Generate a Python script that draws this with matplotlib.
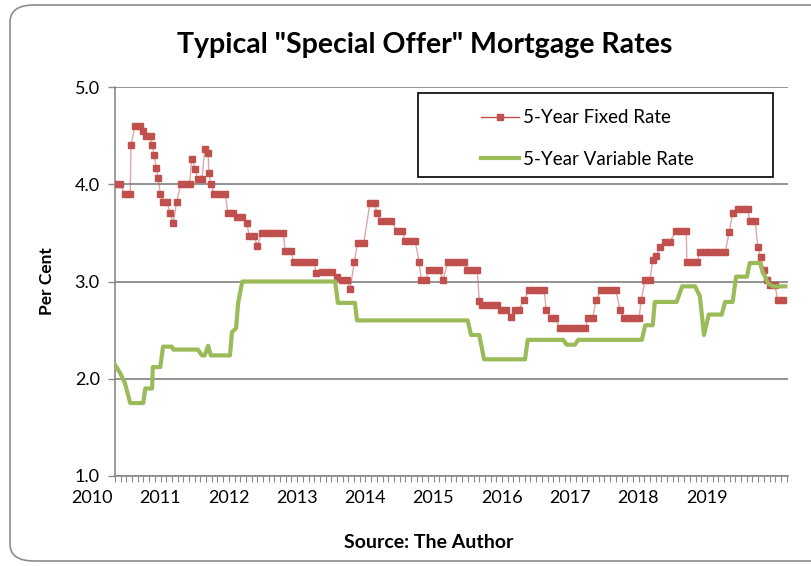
import numpy as np
import matplotlib
matplotlib.use("Agg")
import matplotlib.pyplot as plt
from matplotlib.patches import FancyBboxPatch, Rectangle
from matplotlib.lines import Line2D

# 5-year fixed rate (decimal year, per cent)
fixed_t = [
    2010.34, 2010.41, 2010.48, 2010.56, 2010.57, 2010.63, 2010.70, 2010.75, 2010.79, 2010.86,
    2010.88, 2010.91, 2010.94, 2010.97, 2011.00, 2011.04, 2011.10, 2011.14, 2011.19, 2011.24,
    2011.30, 2011.38, 2011.43, 2011.46, 2011.51, 2011.55, 2011.61, 2011.65, 2011.70, 2011.71,
    2011.74, 2011.79, 2011.86, 2011.95, 2011.99, 2012.06, 2012.12, 2012.20, 2012.27, 2012.30,
    2012.37, 2012.42, 2012.49, 2012.56, 2012.64, 2012.71, 2012.80, 2012.83, 2012.91, 2012.96,
    2013.03, 2013.10, 2013.18, 2013.25, 2013.28, 2013.37, 2013.44, 2013.51, 2013.59, 2013.66,
    2013.73, 2013.78, 2013.84, 2013.89, 2013.98, 2014.07, 2014.14, 2014.17, 2014.23, 2014.30,
    2014.38, 2014.47, 2014.54, 2014.58, 2014.66, 2014.73, 2014.79, 2014.82, 2014.89, 2014.93,
    2015.01, 2015.08, 2015.14, 2015.21, 2015.29, 2015.36, 2015.45, 2015.49, 2015.56, 2015.64,
    2015.67, 2015.71, 2015.78, 2015.86, 2015.93, 2015.99, 2016.06, 2016.13, 2016.19, 2016.25,
    2016.32, 2016.40, 2016.47, 2016.54, 2016.62, 2016.65, 2016.72, 2016.78, 2016.85, 2016.92,
    2017.00, 2017.07, 2017.14, 2017.22, 2017.26, 2017.33, 2017.38, 2017.45, 2017.52, 2017.60,
    2017.67, 2017.73, 2017.79, 2017.86, 2017.93, 2018.01, 2018.04, 2018.10, 2018.17, 2018.21,
    2018.26, 2018.32, 2018.39, 2018.46, 2018.55, 2018.62, 2018.70, 2018.71, 2018.78, 2018.86,
    2018.90, 2018.97, 2019.05, 2019.12, 2019.19, 2019.27, 2019.33, 2019.38, 2019.46, 2019.53,
    2019.60, 2019.63, 2019.71, 2019.75, 2019.79, 2019.84, 2019.88, 2019.93, 2020.00, 2020.04,
    2020.12,
]
fixed_rate = [
    4.00, 4.00, 3.90, 3.90, 4.40, 4.60, 4.60, 4.55, 4.50, 4.50,
    4.40, 4.30, 4.17, 4.06, 3.90, 3.82, 3.82, 3.70, 3.60, 3.82,
    4.00, 4.00, 4.00, 4.26, 4.16, 4.05, 4.05, 4.36, 4.32, 4.12,
    4.00, 3.90, 3.90, 3.90, 3.70, 3.70, 3.66, 3.66, 3.60, 3.47,
    3.47, 3.37, 3.50, 3.50, 3.50, 3.50, 3.50, 3.31, 3.31, 3.20,
    3.20, 3.20, 3.20, 3.20, 3.09, 3.10, 3.10, 3.10, 3.05, 3.02,
    3.02, 2.92, 3.20, 3.40, 3.40, 3.81, 3.81, 3.70, 3.62, 3.62,
    3.62, 3.52, 3.52, 3.42, 3.42, 3.42, 3.20, 3.02, 3.02, 3.12,
    3.12, 3.12, 3.02, 3.20, 3.20, 3.20, 3.20, 3.12, 3.12, 3.12,
    2.80, 2.76, 2.76, 2.76, 2.76, 2.71, 2.71, 2.64, 2.71, 2.71,
    2.81, 2.91, 2.91, 2.91, 2.91, 2.71, 2.62, 2.62, 2.52, 2.52,
    2.52, 2.52, 2.52, 2.52, 2.62, 2.62, 2.81, 2.91, 2.91, 2.91,
    2.91, 2.71, 2.62, 2.62, 2.62, 2.62, 2.81, 3.02, 3.02, 3.22,
    3.26, 3.35, 3.41, 3.41, 3.52, 3.52, 3.52, 3.20, 3.20, 3.20,
    3.30, 3.30, 3.30, 3.30, 3.30, 3.30, 3.51, 3.70, 3.75, 3.75,
    3.75, 3.62, 3.62, 3.35, 3.25, 3.12, 3.02, 2.96, 2.96, 2.81,
    2.81,
]

# 5-year variable rate
var_t = [
    2010.34, 2010.41, 2010.48, 2010.56, 2010.75, 2010.78, 2010.88, 2010.89, 2011.00, 2011.04,
    2011.17, 2011.19, 2011.55, 2011.61, 2011.65, 2011.70, 2011.74, 2012.02, 2012.05, 2012.11,
    2012.14, 2012.20, 2013.56, 2013.60, 2013.85, 2013.88, 2015.50, 2015.55, 2015.67, 2015.74,
    2016.34, 2016.38, 2016.90, 2016.95, 2017.07, 2017.12, 2018.05, 2018.10, 2018.21, 2018.24,
    2018.56, 2018.64, 2018.83, 2018.90, 2018.96, 2019.03, 2019.22, 2019.27, 2019.38, 2019.43,
    2019.59, 2019.63, 2019.78, 2019.82, 2019.90, 2019.97, 2020.15,
]
var_rate = [
    2.14, 2.06, 1.96, 1.75, 1.75, 1.90, 1.90, 2.12, 2.12, 2.33,
    2.33, 2.30, 2.30, 2.24, 2.24, 2.34, 2.24, 2.24, 2.48, 2.52,
    2.78, 3.00, 3.00, 2.78, 2.78, 2.60, 2.60, 2.45, 2.45, 2.20,
    2.20, 2.40, 2.40, 2.35, 2.35, 2.40, 2.40, 2.55, 2.55, 2.79,
    2.79, 2.95, 2.95, 2.85, 2.45, 2.66, 2.66, 2.79, 2.79, 3.05,
    3.05, 3.19, 3.19, 3.10, 2.98, 2.95, 2.95,
]

years = list(range(2010, 2020))
y_ticks = [1.0, 2.0, 3.0, 4.0, 5.0]

RED = "#C0504D"
GREEN = "#9BBB59"
FONT = "Lato"

W, H = 811, 566
fig = plt.figure(figsize=(W / 100, H / 100), dpi=100)

# chart area border with rounded corners
fig.patches.append(FancyBboxPatch((10 / W, 1 - 561 / H), 840 / W, 556 / H,
                                  boxstyle="round,pad=0,rounding_size=0.03",
                                  transform=fig.transFigure, fc="none",
                                  ec="#8c8c8c", lw=1.2, zorder=10))

x0, x1 = 115, 788
ytop, ybot = 87, 476
ax = fig.add_axes([x0 / W, 1 - ybot / H, (x1 - x0) / W, (ybot - ytop) / H])
ax.set_facecolor("none")

t_left = 2010 + (x0 - 92) / 68.3
t_right = 2010 + (x1 - 92) / 68.3
ax.set_xlim(t_left, t_right)
ax.set_ylim(1.0, 5.0)

ax.grid(axis="y", color="#8a8a8a", lw=1.3, zorder=1)
ax.set_yticks(y_ticks)
ax.set_yticklabels([f"{v:.1f}" for v in y_ticks], fontsize=13, family=FONT)
ax.tick_params(axis="y", direction="out", length=5, width=1, color="#8a8a8a", pad=6)

ax.set_xticks(np.arange(t_left, t_right, 1 / 12))
ax.set_xticklabels([])
ax.tick_params(axis="x", direction="out", length=4, width=0.8, color="#8a8a8a")
for yr in years:
    ax.text(yr, -0.057, str(yr), transform=ax.get_xaxis_transform(),
            ha="center", va="center", fontsize=13, family=FONT, clip_on=False)

for s in ["top", "right"]:
    ax.spines[s].set_visible(False)
for s in ["left", "bottom"]:
    ax.spines[s].set_color("#8a8a8a")
    ax.spines[s].set_linewidth(1.2)

ax.plot(fixed_t, fixed_rate, color=RED, lw=1, alpha=0.5, zorder=3)
ax.plot(fixed_t, fixed_rate, ls="none", marker="s", ms=5, color=RED, zorder=4)
ax.plot(var_t, var_rate, color=GREEN, lw=3, zorder=5, solid_joinstyle="round")

ax.set_ylabel("Per Cent", fontsize=12.5, fontweight="bold", family=FONT, labelpad=14)

fig.text(425 / W, 1 - 45 / H, 'Typical "Special Offer" Mortgage Rates',
         ha="center", va="center", fontsize=20.5, fontweight="bold", family=FONT)
fig.text(429 / W, 1 - 542 / H, "Source: The Author",
         ha="center", va="center", fontsize=14, fontweight="bold", family=FONT)

# legend box
fig.patches.append(Rectangle((418 / W, 1 - 177 / H), 355 / W, 84 / H,
                             transform=fig.transFigure, fc="white", ec="black",
                             lw=1.2, zorder=6))
handles = [Line2D([], [], color=RED, lw=1, marker="s", ms=5, mfc=RED, mec=RED),
           Line2D([], [], color=GREEN, lw=3)]
leg = fig.legend(handles, ["5-Year Fixed Rate", "5-Year Variable Rate"],
                 loc="upper left", bbox_to_anchor=(472 / W, 1 - 100 / H),
                 frameon=False, handlelength=2.0, handletextpad=0.2,
                 labelspacing=1.3, borderpad=0, prop={"family": FONT, "size": 13.5})
leg.set_zorder(7)

fig.savefig("out.png", dpi=100)
